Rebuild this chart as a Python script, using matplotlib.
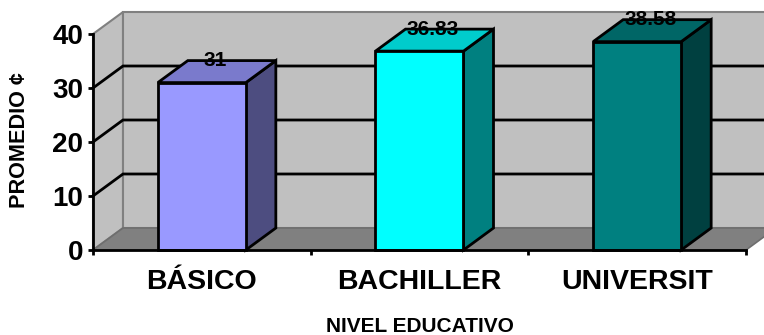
import matplotlib
matplotlib.use("Agg")
import matplotlib.pyplot as plt
from matplotlib.patches import Polygon

categories = ["BÁSICO", "BACHILLER", "UNIVERSIT"]
promedio = [31, 36.83, 38.58]
value_labels = ["31", "36.83", "38.58"]
y_ticks = [0, 10, 20, 30, 40]

front_colors = ["#9999FF", "#00FFFF", "#008080"]
top_colors = ["#7A7ACC", "#00CCCC", "#006666"]
side_colors = ["#4D4D80", "#008080", "#004040"]

plt.rcParams["font.family"] = ["Liberation Sans", "DejaVu Sans"]
plt.rcParams["font.weight"] = "bold"

W, H = 764, 335
fig = plt.figure(figsize=(W / 100, H / 100), dpi=100)
ax = fig.add_axes([93 / W, 1 - 250 / H, 653 / W, 216 / H])
ax.set_xlim(0, 3)
ax.set_ylim(0, 40)

# depth of the fake 3D box, in data units
dx = 30 / (653 / 3)
dy = 22 / (216 / 40)
bar_w = 88 / (653 / 3)
lw = 2.0


def poly(points, face, edge="black", width=lw, z=2):
    ax.add_patch(Polygon(points, closed=True, facecolor=face, edgecolor=edge,
                         linewidth=width, zorder=z, clip_on=False,
                         joinstyle="miter"))


# walls and floor
poly([(0, 0), (dx, dy), (dx, 40 + dy), (0, 40)], "#C0C0C0", "#808080", 1.5, 1)
poly([(dx, dy), (3 + dx, dy), (3 + dx, 40 + dy), (dx, 40 + dy)], "#C0C0C0", "#808080", 1.5, 1)
poly([(0, 0), (3, 0), (3 + dx, dy), (dx, dy)], "#808080", "#6E6E6E", 1.2, 1)

# gridlines run along the side wall and then the back wall
for t in y_ticks[1:-1]:
    ax.plot([0, dx, 3 + dx], [t, t + dy, t + dy], color="black", lw=lw,
            zorder=1.5, clip_on=False, solid_joinstyle="miter")

# bars
for i, v in enumerate(promedio):
    x0 = i + 0.5 - bar_w / 2
    x1 = x0 + bar_w
    poly([(x1, 0), (x1 + dx, dy), (x1 + dx, v + dy), (x1, v)], side_colors[i])
    poly([(x0, v), (x1, v), (x1 + dx, v + dy), (x0 + dx, v + dy)], top_colors[i])
    poly([(x0, 0), (x1, 0), (x1, v), (x0, v)], front_colors[i])
    ax.text(i + 0.5 + dx / 2 - 0.008, v + dy, value_labels[i], ha="center", va="center",
            fontsize=15, color="black", zorder=5, clip_on=False)

for side in ["top", "right"]:
    ax.spines[side].set_visible(False)
for side in ["left", "bottom"]:
    ax.spines[side].set_linewidth(lw)
    ax.spines[side].set_zorder(4)

ax.patch.set_visible(False)
ax.set_yticks(y_ticks)
ax.set_xticks([0, 1, 2, 3])
ax.set_xticklabels([])
ax.tick_params(axis="both", length=3.5, width=lw, labelsize=20, pad=3.5)

for i, name in enumerate(categories):
    ax.text(i + 0.5, -5.9, name, ha="center", va="center", fontsize=20.5, clip_on=False)

fig.text(420 / W, 1 - 326 / H, "NIVEL EDUCATIVO", ha="center", va="center", fontsize=15)
fig.text(20 / W, 1 - 140 / H, "PROMEDIO ¢", ha="center", va="center",
         rotation=90, fontsize=15.6)

fig.savefig("out.png", dpi=100)
